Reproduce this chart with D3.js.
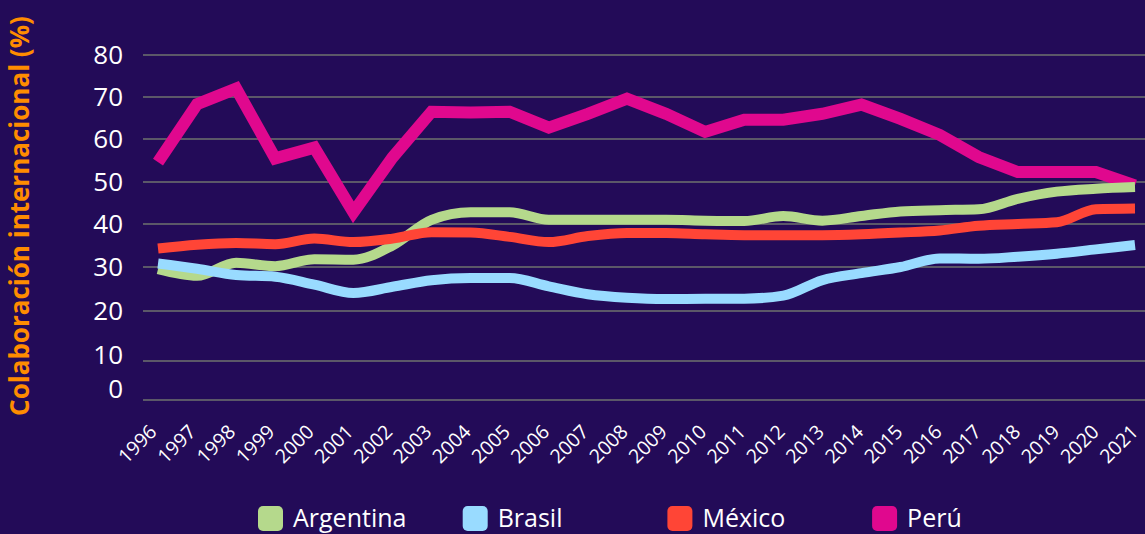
<!DOCTYPE html>
<html>
<head>
<meta charset="utf-8">
<script src="https://cdn.jsdelivr.net/npm/d3@7"></script>
<style>
  html, body { margin: 0; padding: 0; background: #230b58; }
  svg { display: block; }
</style>
</head>
<body>
<div id="chart"></div>
<script>
var years = [1996, 1997, 1998, 1999, 2000, 2001, 2002, 2003, 2004, 2005, 2006, 2007, 2008,
	2009, 2010, 2011, 2012, 2013, 2014, 2015, 2016, 2017, 2018, 2019, 2020, 2021];

var argentina = [29.5, 28, 31, 30.2, 31.8, 31.7, 35, 41, 42.8, 42.8, 41, 41, 41,
	41, 40.8, 40.7, 41.9, 40.8, 41.9, 43, 43.3, 43.5, 46, 47.7, 48.4, 48.8];
var brasil = [30.8, 29.6, 28.2, 27.8, 26, 24.1, 25.5, 27, 27.5, 27.5, 25.6, 23.8, 23,
	22.7, 22.8, 22.8, 23.5, 27, 28.6, 30, 32, 31.9, 32.4, 33.1, 34.1, 35.1];
var mexico = [34.3, 35.2, 35.6, 35.3, 36.6, 35.8, 36.6, 38.1, 38, 37, 35.8, 37.2, 37.9,
	37.9, 37.6, 37.4, 37.4, 37.4, 37.6, 38, 38.5, 39.6, 40, 40.4, 43.5, 43.7];
var peru = [54.6, 68.3, 72, 55.5, 58, 42.8, 55.7, 66.5, 66.3, 66.5, 62.7, 66, 69.6,
	66, 61.7, 64.6, 64.6, 66, 68.2, 64.8, 61, 55.8, 52.3, 52.3, 52.3, 49.2];

var yTicks = [0, 10, 20, 30, 40, 50, 60, 70, 80];

var seriesNames = ["Argentina", "Brasil", "México", "Perú"];
var seriesColors = ["#b5d98c", "#99dbff", "#ff4536", "#e0088e"];

var width = 1145, height = 534;

var svg = d3.select("#chart").append("svg")
	.attr("width", width)
	.attr("height", height);

svg.append("rect")
	.attr("width", width)
	.attr("height", height)
	.attr("fill", "#230b58");

// x: one step per year
var x = d3.scaleLinear()
	.domain([1996, 2021])
	.range([158, 1135]);

// y: the gridlines in the picture are not evenly spaced, so map tick by tick
var y = d3.scaleLinear()
	.domain(yTicks)
	.range([400, 361, 311, 267, 224, 182, 139, 97, 55]);

// gridlines
svg.append("g")
	.selectAll("line")
	.data(yTicks)
	.enter()
	.append("line")
	.attr("x1", 143)
	.attr("x2", width)
	.attr("y1", function(d) { return y(d); })
	.attr("y2", function(d) { return y(d); })
	.attr("stroke", "#5b5868")
	.attr("stroke-width", 2.2);

// y tick labels
svg.append("g")
	.selectAll("text")
	.data(yTicks)
	.enter()
	.append("text")
	.attr("x", 123)
	.attr("y", function(d) { return y(d) + (d === 10 ? -6 : d === 0 ? -11 : 0); })
	.attr("dy", "0.36em")
	.attr("text-anchor", "end")
	.attr("fill", "#ffffff")
	.style("font-family", "'Open Sans', sans-serif")
	.style("font-size", "26px")
	.text(function(d) { return d; });

// x tick labels
svg.append("g")
	.selectAll("text")
	.data(years)
	.enter()
	.append("text")
	.attr("transform", function(d, i) {
		return "translate(" + (x(d) + i * 0.18) + ",433) rotate(-45)";
	})
	.attr("text-anchor", "end")
	.attr("fill", "#ffffff")
	.style("font-family", "'Open Sans', sans-serif")
	.style("font-size", "19.5px")
	.text(function(d) { return d; });

// y title
svg.append("text")
	.attr("transform", "translate(29,216) rotate(-90)")
	.attr("text-anchor", "middle")
	.attr("fill", "#ff8c00")
	.style("font-family", "'Open Sans', sans-serif")
	.style("font-weight", "bold")
	.style("font-size", "26px")
	.text("Colaboración internacional (%)");

// lines, drawn bottom to top
var smooth = d3.line()
	.x(function(d, i) { return x(years[i]); })
	.y(function(d) { return y(d); })
	.curve(d3.curveMonotoneX);

var straight = d3.line()
	.x(function(d, i) { return x(years[i]); })
	.y(function(d) { return y(d); });

var lines = [
	{ values: peru, color: seriesColors[3], w: 12, gen: straight },
	{ values: argentina, color: seriesColors[0], w: 10, gen: smooth },
	{ values: brasil, color: seriesColors[1], w: 10, gen: smooth },
	{ values: mexico, color: seriesColors[2], w: 10, gen: smooth }
];

svg.append("g")
	.selectAll("path")
	.data(lines)
	.enter()
	.append("path")
	.attr("d", function(d) { return d.gen(d.values); })
	.attr("fill", "none")
	.attr("stroke", function(d) { return d.color; })
	.attr("stroke-width", function(d) { return d.w; })
	.attr("stroke-linejoin", "miter")
	.attr("stroke-linecap", "butt");

// legend
var legend = svg.append("g")
	.selectAll("g")
	.data(seriesNames)
	.enter()
	.append("g")
	.attr("transform", function(d, i) { return "translate(" + (258 + i * 204.7) + ",506)"; });

legend.append("rect")
	.attr("width", 25)
	.attr("height", 25)
	.attr("rx", 5)
	.attr("fill", function(d, i) { return seriesColors[i]; });

legend.append("text")
	.attr("x", 35)
	.attr("y", 21)
	.attr("fill", "#ffffff")
	.style("font-family", "'Open Sans', sans-serif")
	.style("font-size", "25px")
	.text(function(d) { return d; });
</script>
</body>
</html>
